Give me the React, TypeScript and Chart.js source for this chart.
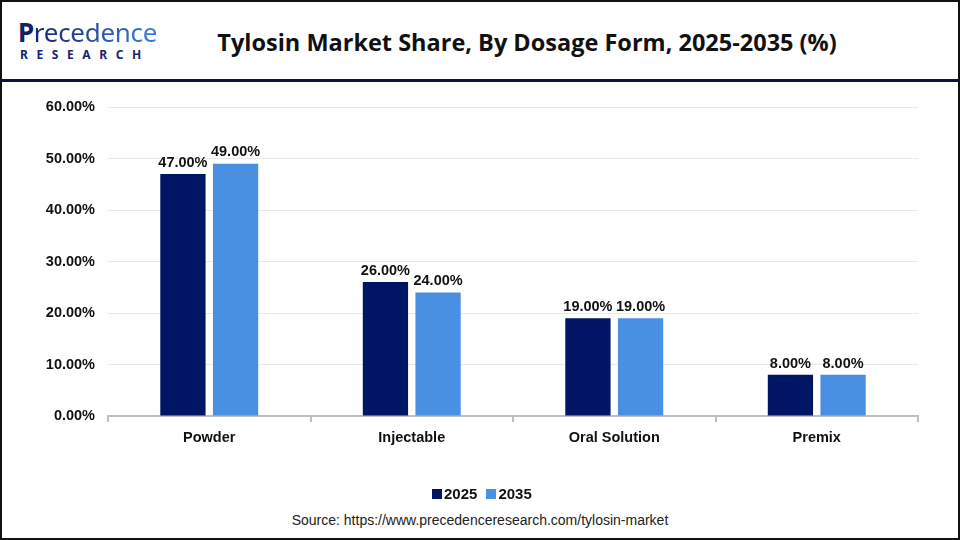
import React, { useEffect, useRef } from "react";
import { Chart, registerables } from "chart.js";

Chart.register(...registerables);

const categories = ["Powder", "Injectable", "Oral Solution", "Premix"];
const values2025 = [47, 26, 19, 8];
const values2035 = [49, 24, 19, 8];
const seriesNames = ["2025", "2035"];
const seriesColors = ["#001563", "#4A90E2"];
const yTicks = [0, 10, 20, 30, 40, 50, 60];

const FONT = "'Liberation Sans', Arial, sans-serif";

const valueLabels = {
  id: "valueLabels",
  afterDatasetsDraw(chart: any) {
    const ctx = chart.ctx;
    ctx.save();
    ctx.font = `bold 14.5px ${FONT}`;
    ctx.fillStyle = "#111";
    ctx.textAlign = "center";
    ctx.textBaseline = "bottom";
    chart.data.datasets.forEach((ds: any, i: number) => {
      const meta = chart.getDatasetMeta(i);
      meta.data.forEach((bar: any, j: number) => {
        ctx.fillText(ds.data[j].toFixed(2) + "%", bar.x, bar.y - 4);
      });
    });
    ctx.restore();
  },
};

function BarChart() {
  const ref = useRef<HTMLCanvasElement>(null);
  useEffect(() => {
    if (!ref.current) return;
    const chart = new Chart(ref.current, {
      type: "bar",
      data: {
        labels: categories,
        datasets: seriesNames.map((name, i) => ({
          label: name,
          data: i === 0 ? values2025 : values2035,
          backgroundColor: seriesColors[i],
          categoryPercentage: 0.52,
          barPercentage: 0.86,
        })),
      },
      options: {
        animation: false,
        responsive: false,
        maintainAspectRatio: false,
        layout: { padding: { top: 22, right: 42, left: 0, bottom: 33 } },
        plugins: {
          legend: { display: false },
          tooltip: { enabled: false },
        },
        scales: {
          x: {
            grid: { drawOnChartArea: false, drawTicks: true, tickLength: 6, color: "#bfbfbf", lineWidth: 2 },
            border: { color: "#bfbfbf", width: 2 },
            ticks: { color: "#111", font: { family: FONT, size: 14.5, weight: "bold" }, padding: 7 },
            afterFit: (axis: any) => { axis.height = 61; },
          },
          y: {
            min: 0,
            max: 60,
            afterBuildTicks: (axis: any) => { axis.ticks = yTicks.map((v) => ({ value: v })); },
            grid: { color: "#e9e9e9", drawTicks: false, lineWidth: 1 },
            border: { display: false },
            ticks: {
              color: "#111",
              padding: 13,
              font: { family: FONT, size: 14.5, weight: "bold" },
              callback: (v: any) => Number(v).toFixed(2) + "%",
            },
            afterFit: (axis: any) => { axis.width = 108; },
          },
        },
      },
      plugins: [valueLabels],
    } as any);
    return () => chart.destroy();
  }, []);
  return <canvas ref={ref} width={960} height={425} style={{ position: "absolute", left: 0, top: 85, width: 960, height: 425 }} />;
}

function Legend() {
  return (
    <div style={{ position: "absolute", left: 432, top: 485, display: "flex", alignItems: "center", fontSize: 15, fontWeight: 700, color: "#111", lineHeight: "18px" }}>
      {seriesNames.map((name, i) => (
        <div key={name} style={{ display: "flex", alignItems: "center", marginRight: 9 }}>
          <span style={{ display: "inline-block", width: 10, height: 10, background: seriesColors[i], marginRight: 2 }} />
          <span>{name}</span>
        </div>
      ))}
    </div>
  );
}

export default function App() {
  return (
    <div style={{ position: "fixed", left: 0, top: 0, width: 960, height: 540, background: "#fff", overflow: "hidden", fontFamily: FONT }}>
      <div style={{ position: "absolute", left: 0, top: 0, width: 956, height: 536, border: "2px solid #111" }} />
      <div style={{ position: "absolute", left: 0, top: 79, width: 960, height: 3, background: "#0d1240" }} />
      <div style={{ position: "absolute", left: 18, top: 18, lineHeight: 1 }}>
        <div style={{ fontFamily: "'Noto Sans', sans-serif", fontSize: 26, color: "#1a2470", letterSpacing: -0.3, lineHeight: "28px" }}>
          <span style={{ fontWeight: 700, color: "#14206a" }}>P</span>
          <span style={{ background: "linear-gradient(90deg,#1a2470,#3a7fd8)", WebkitBackgroundClip: "text", color: "transparent" }}>recedence</span>
        </div>
        <div style={{ fontFamily: "'Noto Sans', sans-serif", fontSize: 12, fontWeight: 700, color: "#1a2470", letterSpacing: 8.6, marginTop: 3, marginLeft: 2 }}>RESEARCH</div>
      </div>
      <div style={{ position: "absolute", left: 0, width: 1054, top: 26, textAlign: "center", fontFamily: "'Open Sans', sans-serif", fontSize: 23.5, fontWeight: 700, color: "#111", whiteSpace: "nowrap", lineHeight: "32px" }}>
        Tylosin Market Share, By Dosage Form, 2025-2035 (%)
      </div>
      <BarChart />
      <Legend />
      <div style={{ position: "absolute", left: 0, width: 960, top: 512, textAlign: "center", fontSize: 14, color: "#222" }}>
        Source: https://www.precedenceresearch.com/tylosin-market
      </div>
    </div>
  );
}
